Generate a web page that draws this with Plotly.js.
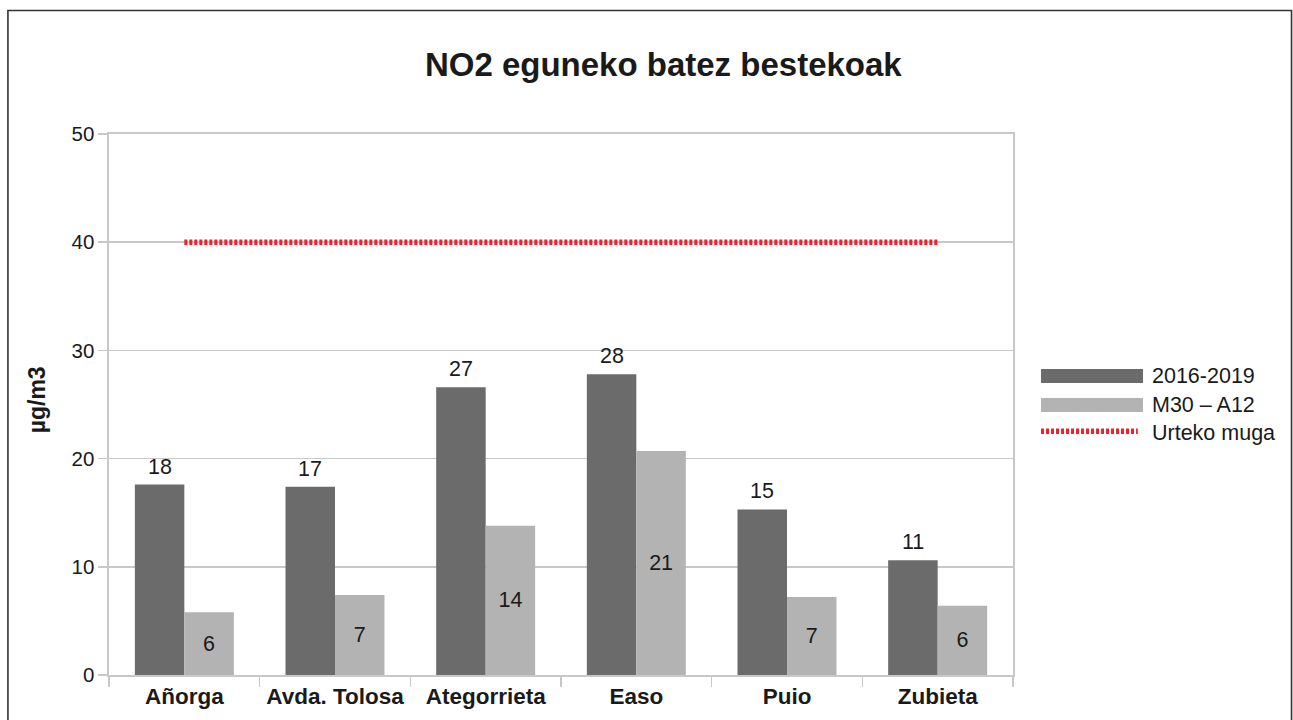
<!DOCTYPE html>
<html>
<head>
<meta charset="utf-8">
<script src="https://cdn.plot.ly/plotly-3.0.1.min.js"></script>
<style>
  html, body { margin: 0; padding: 0; background: #ffffff; }
  #chart { width: 1293px; height: 720px; }
</style>
</head>
<body>
<div id="chart"></div>
<script>
// ---- data ----
const categories = ['Añorga', 'Avda. Tolosa', 'Ategorrieta', 'Easo', 'Puio', 'Zubieta'];
const series2016 = [17.6, 17.4, 26.6, 27.8, 15.3, 10.6];
const seriesM30 = [5.8, 7.4, 13.8, 20.7, 7.2, 6.4];
const limitSeries = [40, 40, 40, 40, 40, 40];
const seriesNames = ['2016-2019', 'M30 – A12', 'Urteko muga'];
const yTicks = [0, 10, 20, 30, 40, 50];
const chartTitle = 'NO2 eguneko batez bestekoak';
const yTitle = 'µg/m3';

// ---- style ----
const FONT = 'Liberation Sans, Arial, sans-serif';
const DARK = '#6b6b6b';
const LIGHT = '#b3b3b3';
const RED = '#f2202c';
const GRID = '#c8c8c8';
const TEXT = '#1a1a1a';
const BARGAP = 0.343;

const traces = [
  {
    type: 'bar', name: seriesNames[0], x: categories, y: series2016,
    marker: { color: DARK, line: { width: 0 } },
    showlegend: false, hoverinfo: 'x+y'
  },
  {
    type: 'bar', name: seriesNames[1], x: categories, y: seriesM30,
    marker: { color: LIGHT, line: { width: 0 } },
    texttemplate: '%{y:.0f}', textposition: 'inside', insidetextanchor: 'middle',
    textangle: 0, constraintext: 'none',
    textfont: { family: FONT, size: 21.5, color: TEXT },
    showlegend: false, hoverinfo: 'x+y'
  },
  {
    type: 'scatter', mode: 'lines', name: seriesNames[2], x: categories, y: limitSeries,
    line: { color: RED, width: 5.5, dash: '3px,2px' },
    showlegend: false, hoverinfo: 'y'
  }
];

// labels above the dark bars (from the data, placed on the library's axes)
const annotations = series2016.map((v, i) => ({
  xref: 'x', yref: 'y', x: i - (1 - BARGAP) / 4, y: v,
  text: String(Math.round(v)), showarrow: false,
  xanchor: 'center', yanchor: 'bottom', yshift: 4,
  font: { family: FONT, size: 21.5, color: TEXT }
}));

// y axis title
annotations.push({
  xref: 'paper', yref: 'paper', x: -0.0795, y: 0.508,
  text: yTitle, showarrow: false, textangle: -90,
  xanchor: 'center', yanchor: 'middle',
  font: { family: FONT, size: 23, color: TEXT, weight: 700 }
});

// legend texts
const legendY = [0.553, 0.4985, 0.4465];
seriesNames.forEach((n, i) => {
  annotations.push({
    xref: 'paper', yref: 'paper', x: 1.1516, y: legendY[i],
    text: n, showarrow: false, xanchor: 'left', yanchor: 'middle',
    font: { family: FONT, size: 21.5, color: TEXT }
  });
});

const shapes = [
  // outer frame
  { type: 'rect', xref: 'paper', yref: 'paper', x0: -0.1118, x1: 1.3081, y0: -0.1, y1: 1.2283,
    line: { color: '#333333', width: 1.6 }, fillcolor: 'rgba(0,0,0,0)' },
  // legend symbols
  { type: 'rect', xref: 'paper', yref: 'paper', x0: 1.031, x1: 1.1438, y0: 0.5397, y1: 0.5656,
    line: { width: 0 }, fillcolor: DARK },
  { type: 'rect', xref: 'paper', yref: 'paper', x0: 1.031, x1: 1.1438, y0: 0.4861, y1: 0.512,
    line: { width: 0 }, fillcolor: LIGHT },
  { type: 'line', xref: 'paper', yref: 'paper', x0: 1.031, x1: 1.138, y0: 0.4505, y1: 0.4505,
    line: { color: RED, width: 5.5, dash: '3px,2px' } }
];

const layout = {
  width: 1293, height: 720, autosize: false,
  margin: { l: 109, r: 280, t: 134, b: 45, pad: 0 },
  paper_bgcolor: '#ffffff', plot_bgcolor: '#ffffff',
  font: { family: FONT, size: 20, color: TEXT },
  title: {
    text: chartTitle, xref: 'container', yref: 'container',
    x: 0.513, y: 0.911, xanchor: 'center', yanchor: 'middle',
    font: { family: FONT, size: 33, color: TEXT, weight: 700 }
  },
  barmode: 'group', bargap: BARGAP, bargroupgap: 0,
  showlegend: false,
  xaxis: {
    type: 'category', tickson: 'boundaries',
    ticks: 'outside', ticklen: 10, tickcolor: GRID, tickwidth: 1.6,
    showgrid: false,
    showline: true, linecolor: GRID, linewidth: 1.6, mirror: true,
    tickfont: { family: FONT, size: 22.5, color: TEXT, weight: 700 },
    fixedrange: true
  },
  yaxis: {
    range: [0, 50], tickvals: yTicks, ticktext: yTicks.map(String),
    ticks: 'outside', ticklen: 9, tickcolor: GRID, tickwidth: 1.6,
    showgrid: true, gridcolor: GRID, gridwidth: 1.6, zeroline: false,
    showline: true, linecolor: GRID, linewidth: 1.6, mirror: true,
    tickfont: { family: FONT, size: 20.5, color: TEXT },
    fixedrange: true
  },
  annotations: annotations,
  shapes: shapes
};

Plotly.newPlot('chart', traces, layout, { displayModeBar: false, staticPlot: true });
</script>
</body>
</html>
